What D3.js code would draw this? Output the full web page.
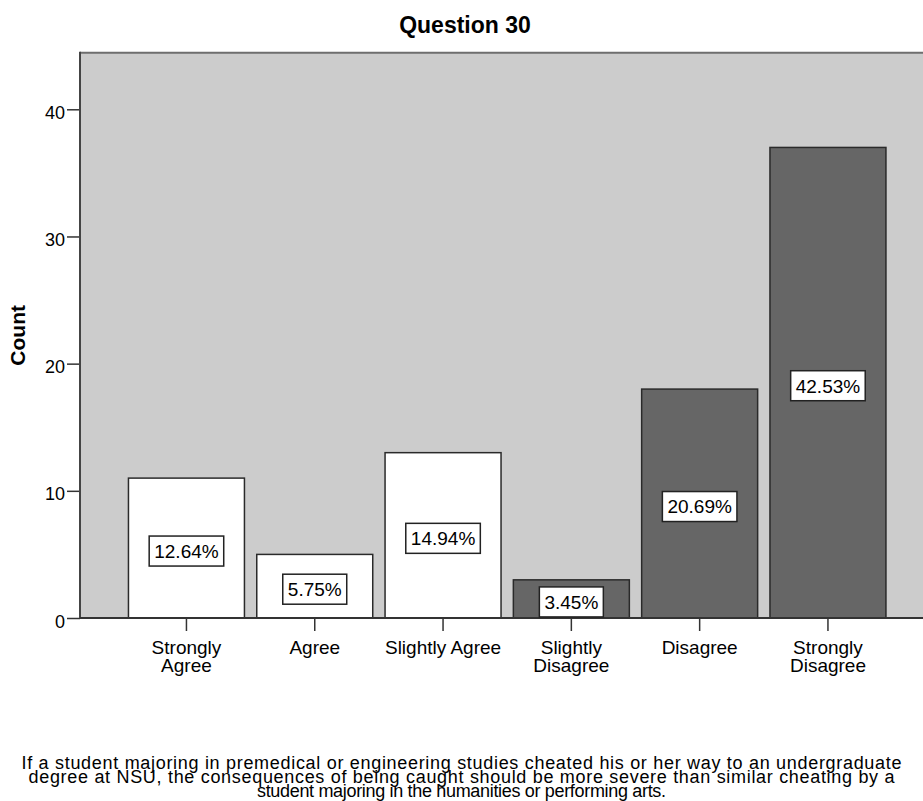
<!DOCTYPE html>
<html>
<head>
<meta charset="utf-8">
<script src="https://cdn.jsdelivr.net/npm/d3@7"></script>
<style>
  html, body { margin: 0; padding: 0; background: #ffffff; }
  svg { display: block; }
  text { font-family: "Liberation Sans", Arial, sans-serif; fill: #000; }
</style>
</head>
<body>
<div id="chart"></div>
<script>
// ---- data ----
const categories = ["Strongly Agree", "Agree", "Slightly Agree", "Slightly Disagree", "Disagree", "Strongly Disagree"];
const categoryLines = [["Strongly", "Agree"], ["Agree"], ["Slightly Agree"], ["Slightly", "Disagree"], ["Disagree"], ["Strongly", "Disagree"]];
const counts = [11, 5, 13, 3, 18, 37];
const percentLabels = ["12.64%", "5.75%", "14.94%", "3.45%", "20.69%", "42.53%"];
const groups = ["agree", "agree", "agree", "disagree", "disagree", "disagree"];
const yTicks = [0, 10, 20, 30, 40];
const title = "Question 30";
const yTitle = "Count";
const captionLines = [
  "If a student majoring in premedical or engineering studies cheated his or her way to an undergraduate",
  "degree at NSU, the consequences of being caught should be more severe than similar cheating by a",
  "student majoring in the humanities or performing arts."
];
const captionWidths = [880, 866, 409];

// ---- layout ----
const W = 923, H = 801;
const plot = { left: 80, right: 923, top: 52.7, bottom: 618 };

const svg = d3.select("#chart").append("svg").attr("width", W).attr("height", H);

const y = d3.scaleLinear().domain([0, 44.45]).range([plot.bottom, plot.top]);
const x = d3.scaleBand().domain(categories).range([122.3, 892.1]).paddingInner(0.096).paddingOuter(0.048);
const color = d3.scaleOrdinal().domain(["agree", "disagree"]).range(["#ffffff", "#666666"]);

// background
svg.append("rect")
  .attr("x", plot.left).attr("y", plot.top)
  .attr("width", plot.right - plot.left).attr("height", plot.bottom - plot.top)
  .attr("fill", "#cccccc");

// top border
svg.append("line")
  .attr("x1", plot.left).attr("x2", plot.right)
  .attr("y1", plot.top).attr("y2", plot.top)
  .attr("stroke", "#6e6e6e").attr("stroke-width", 2);

const data = categories.map((c, i) => ({ c, lines: categoryLines[i], v: counts[i], p: percentLabels[i], g: groups[i] }));

// bars
svg.append("g").selectAll("rect").data(data).join("rect")
  .attr("x", d => x(d.c))
  .attr("y", d => y(d.v))
  .attr("width", x.bandwidth())
  .attr("height", d => y(0) - y(d.v))
  .attr("fill", d => color(d.g))
  .attr("stroke", "#2a2a2a")
  .attr("stroke-width", 1.5);

// y axis
const yAxis = d3.axisLeft(y).tickValues(yTicks).tickSize(13).tickSizeOuter(0).tickPadding(2);
const gy = svg.append("g").attr("transform", `translate(${plot.left},0)`).call(yAxis);
gy.select(".domain").remove();
gy.selectAll(".tick line").attr("stroke", "#333").attr("stroke-width", 1.5);
gy.selectAll(".tick text").attr("font-size", 18).attr("fill", "#000")
  .attr("font-family", "Liberation Sans, Arial, sans-serif").attr("dy", "0.5em");
svg.append("line")
  .attr("x1", plot.left).attr("x2", plot.left)
  .attr("y1", plot.top - 1).attr("y2", plot.bottom)
  .attr("stroke", "#444").attr("stroke-width", 2);

// x axis
const xAxis = d3.axisBottom(x).tickSize(13).tickSizeOuter(0).tickFormat("");
const gx = svg.append("g").attr("transform", `translate(0,${plot.bottom})`).call(xAxis);
gx.select(".domain").remove();
gx.selectAll(".tick line").attr("stroke", "#333").attr("stroke-width", 1.5);
svg.append("line")
  .attr("x1", plot.left).attr("x2", plot.right)
  .attr("y1", plot.bottom).attr("y2", plot.bottom)
  .attr("stroke", "#333").attr("stroke-width", 2);

// x labels
const xl = svg.append("g").selectAll("text").data(data).join("text")
  .attr("text-anchor", "middle")
  .attr("font-size", 19)
  .attr("transform", d => `translate(${x(d.c) + x.bandwidth() / 2},654)`);
xl.selectAll("tspan").data(d => d.lines).join("tspan")
  .attr("x", 0).attr("y", (d, i) => i * 18).text(d => d);

// percent labels with boxes
const lab = svg.append("g").selectAll("g").data(data).join("g")
  .attr("transform", d => `translate(${x(d.c) + x.bandwidth() / 2},${(y(d.v) + y(0)) / 2 + 3})`);
lab.append("text")
  .attr("text-anchor", "middle").attr("font-size", 19).attr("dy", "0.36em")
  .text(d => d.p);
lab.each(function () {
  const g = d3.select(this);
  const bb = g.select("text").node().getBBox();
  g.insert("rect", "text")
    .attr("x", -bb.width / 2 - 5).attr("y", -15)
    .attr("width", bb.width + 10).attr("height", 30)
    .attr("fill", "#fff").attr("stroke", "#222").attr("stroke-width", 1.5);
});

// title
svg.append("text").attr("x", 465).attr("y", 33)
  .attr("text-anchor", "middle").attr("font-size", 23).attr("font-weight", "bold")
  .text(title);

// y title
svg.append("text")
  .attr("transform", `translate(25,${(plot.top + plot.bottom) / 2}) rotate(-90)`)
  .attr("text-anchor", "middle").attr("font-size", 21).attr("font-weight", "bold")
  .text(yTitle);

// caption
svg.append("g").selectAll("text").data(captionLines).join("text")
  .attr("x", W / 2).attr("y", (d, i) => 769 + i * 14)
  .attr("text-anchor", "middle").attr("font-size", 18)
  .style("font-family", "'Liberation Sans Narrow', 'Arial Narrow', 'Liberation Sans', Arial, sans-serif")
  .attr("textLength", (d, i) => captionWidths[i])
  .attr("lengthAdjust", "spacing")
  .text(d => d);
</script>
</body>
</html>
